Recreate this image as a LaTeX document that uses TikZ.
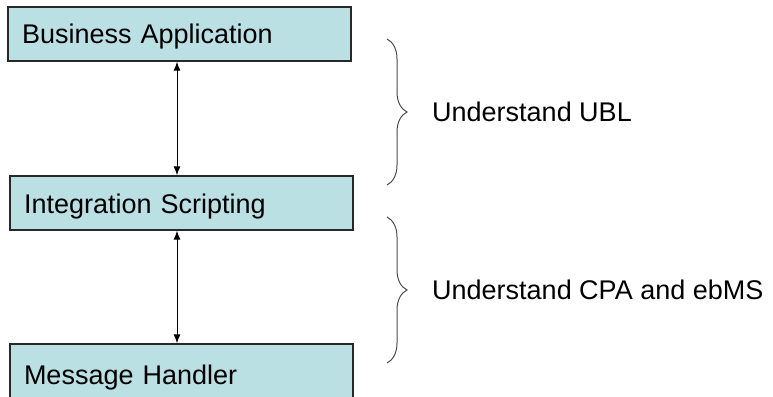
\documentclass[tikz,border=0pt]{standalone}
\usepackage{fontspec}
\setmainfont{Liberation Sans}
\usetikzlibrary{calc,arrows.meta,decorations.pathreplacing}

\definecolor{layerfill}{RGB}{186,224,228}
\definecolor{layerline}{RGB}{40,40,40}

\begin{document}
\begin{tikzpicture}[x=1pt,y=-1pt,>={Latex[length=9pt,width=7pt]},
    every node/.style={font=\fontsize{27}{32}\selectfont},
    layer/.style={draw=layerline,line width=1.3pt,fill=layerfill,minimum width=343pt,
        minimum height=54pt,inner sep=0pt,text width=315pt,align=left,
        text height=20pt,text depth=0pt},
    bracket/.style={draw=black!70,line width=1pt,decorate,decoration={brace,amplitude=20pt}}]
        \useasboundingbox (0,0) rectangle (773,396);
        \node[layer] (app) at (179.5,34) {Business Application};
        \node[layer] (script) at (181.5,203) {Integration Scripting};
        \node[layer,text height=27pt] (handler) at (181.5,371) {Message Handler};
        \draw[<->,line width=1pt] ([xshift=-2.5pt]app.south) -- ([xshift=-4.5pt]script.north);
        \draw[<->,line width=1pt] ([xshift=-4.5pt]script.south) -- ([xshift=-4.5pt]handler.north);
        \coordinate (ubltop) at (387,39);
        \coordinate (ublbot) at (387,185);
        \coordinate (cpatop) at (387,217);
        \coordinate (cpabot) at (387,363);
        \draw[bracket] (ubltop) -- (ublbot);
        \draw[bracket] (cpatop) -- (cpabot);
        \node[anchor=west,inner sep=0pt] (ubl) at ($(ubltop)!0.5!(ublbot)+(45,0)$) {Understand UBL};
        \node[anchor=west,inner sep=0pt] (cpa) at ($(cpatop)!0.5!(cpabot)+(45,0)$) {Understand CPA and ebMS};
    \end{tikzpicture}
\end{document}
